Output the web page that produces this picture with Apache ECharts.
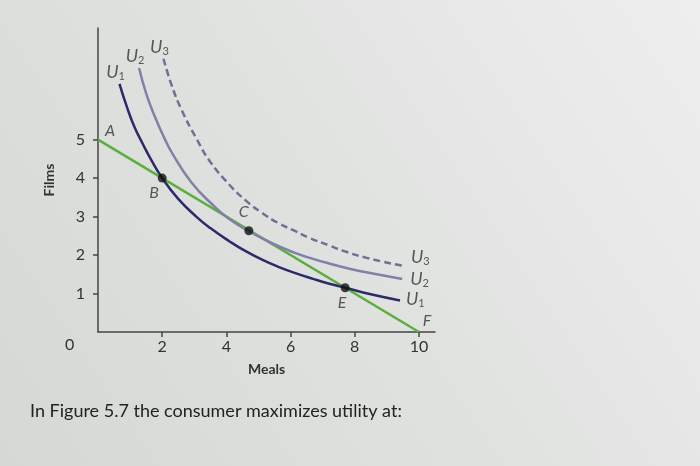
<!DOCTYPE html>
<html>
<head>
<meta charset="utf-8">
<script src="https://cdn.jsdelivr.net/npm/echarts@6/dist/echarts.min.js"></script>
<style>html,body{margin:0;padding:0;}#c{width:700px;height:466px;}</style>
</head>
<body>
<div id="c"></div>
<script>
// Meals (x) vs Films (y)
var budgetLine = [[0, 5], [10, 0]];
var u1 = [[0.67, 6.45], [0.9, 5.85], [1.14, 5.32], [1.4, 4.88], [1.64, 4.5], [2.0, 4.0], [2.5, 3.46], [3.06, 3.0], [3.5, 2.7], [4.09, 2.36], [4.6, 2.1], [5.11, 1.88], [5.6, 1.7], [6.15, 1.53], [6.7, 1.38], [7.18, 1.26], [7.7, 1.15], [8.5, 0.98], [9.41, 0.82]];
var u2 = [[1.28, 6.86], [1.5, 6.2], [1.77, 5.6], [2.05, 5.07], [2.31, 4.65], [2.9, 3.9], [3.58, 3.3], [4.1, 2.93], [4.7, 2.62], [5.44, 2.3], [6.16, 2.05], [6.7, 1.9], [7.2, 1.78], [7.8, 1.65], [8.44, 1.54], [9.48, 1.38]];
var u3 = [[2.04, 7.1], [2.3, 6.4], [2.6, 5.78], [3.05, 5.05], [3.5, 4.42], [4.1, 3.82], [4.6, 3.42], [5.1, 3.1], [5.6, 2.84], [6.2, 2.6], [6.6, 2.44], [7.2, 2.25], [7.6, 2.12], [8.4, 1.92], [9.5, 1.72]];
var curveNames = ['1', '2', '3'];
var points = [{name: 'B', value: [2, 4]}, {name: 'C', value: [4.7, 2.63]}, {name: 'E', value: [7.7, 1.15]}];
var endpoints = [{name: 'A', value: [0, 5]}, {name: 'F', value: [10, 0]}];
var xTicks = [2, 4, 6, 8, 10];
var yTicks = [1, 2, 3, 4, 5];
var xName = 'Meals', yName = 'Films';
var caption = 'In Figure 5.7 the consumer maximizes utility at:';

var FONT = 'Lato, "DejaVu Sans", sans-serif';
var uRich = {
  u: {fontStyle: 'italic', fontSize: 18, color: '#333', fontFamily: FONT},
  s: {fontSize: 11, color: '#333', fontFamily: FONT, verticalAlign: 'bottom', padding: [9, 0, 0, 0]}
};
var curves = [u1, u2, u3];
var topLabels = curves.map(function (c, i) {
  return {name: curveNames[i], value: c[0]};
});
var endLabels = curves.map(function (c, i) {
  return {name: curveNames[i], value: c[c.length - 1]};
});
function curve(arr, color, dash) {
  return {
    type: 'line', data: arr, smooth: 0.5, showSymbol: false,
    lineStyle: {color: color, width: 2.5, type: dash || 'solid'}, z: 3
  };
}

var chart = echarts.init(document.getElementById('c'), null, {renderer: 'canvas'});
chart.setOption({
  backgroundColor: {
    type: 'linear', x: 0, y: 1, x2: 1, y2: 0,
    colorStops: [{offset: 0, color: '#d6d8d6'}, {offset: 0.5, color: '#e0e2e0'}, {offset: 1, color: '#eeeeee'}]
  },
  animation: false,
  title: {
    text: caption, left: 25, top: 397,
    textStyle: {fontSize: 18, fontWeight: 'normal', color: '#222', fontFamily: FONT}
  },
  graphic: [{
    type: 'text', left: 65, top: 337,
    style: {text: '0', fontSize: 16, fill: '#333', fontFamily: FONT}
  }],
  grid: {left: 98, right: 265, top: 28, bottom: 134},
  xAxis: {
    type: 'value', min: 0, max: 10.5,
    name: xName, nameLocation: 'middle', nameGap: 30,
    nameTextStyle: {fontSize: 14, fontWeight: 'bold', color: '#333', fontFamily: FONT},
    axisLine: {lineStyle: {color: '#444', width: 1.5}},
    axisTick: {show: true, customValues: xTicks, length: 5, lineStyle: {color: '#444', width: 1.5}},
    axisLabel: {customValues: xTicks, fontSize: 16, color: '#333', margin: 7, fontFamily: FONT},
    splitLine: {show: false}
  },
  yAxis: {
    type: 'value', min: 0, max: 7.9,
    name: yName, nameLocation: 'middle', nameGap: 42, nameRotate: 90,
    nameTextStyle: {fontSize: 14, fontWeight: 'bold', color: '#333', fontFamily: FONT},
    axisLine: {show: true, lineStyle: {color: '#444', width: 1.5}},
    axisTick: {show: true, customValues: yTicks, length: 5, lineStyle: {color: '#444', width: 1.5}},
    axisLabel: {customValues: yTicks, fontSize: 16, color: '#333', margin: 13, fontFamily: FONT},
    splitLine: {show: false}
  },
  series: [
    {type: 'line', data: budgetLine, showSymbol: false, lineStyle: {color: '#5cae3e', width: 2.5}, z: 2},
    curve(u1, '#2c2b6a'),
    curve(u2, '#8080a8'),
    curve(u3, '#6e7094', [7, 4]),
    {
      type: 'scatter', data: topLabels, symbolSize: 0, z: 6, silent: true,
      label: {show: true, position: 'top', distance: 2, formatter: function (p) { return '{u|U}{s|' + p.name + '}'; }, rich: uRich},
      labelLayout: {dx: -4, dy: 0}
    },
    {
      type: 'scatter', data: endLabels, symbolSize: 0, z: 6, silent: true,
      label: {show: true, position: 'right', distance: 6, formatter: function (p) { return '{u|U}{s|' + p.name + '}'; }, rich: uRich},
      labelLayout: function (p) {
        if (p.dataIndex === 2) return {dx: 2, dy: -9};
        if (p.dataIndex === 1) return {dx: 2, dy: 0};
        return {dx: 0, dy: -1};
      }
    },
    {
      type: 'scatter', data: points, symbolSize: 9, itemStyle: {color: '#111'}, z: 5,
      label: {
        show: true, formatter: '{b}', fontSize: 16, fontStyle: 'italic', color: '#333', fontFamily: FONT,
        position: 'bottom'
      },
      labelLayout: function (p) {
        var n = points[p.dataIndex].name;
        if (n === 'B') return {dx: -8, dy: -3};
        if (n === 'C') return {dx: -5, dy: -36};
        return {dx: -3, dy: -2};
      }
    },
    {
      type: 'scatter', data: endpoints, symbolSize: 0, z: 5,
      label: {show: true, formatter: '{b}', fontSize: 16, fontStyle: 'italic', color: '#333', fontFamily: FONT, position: 'top'},
      labelLayout: function (p) {
        var n = endpoints[p.dataIndex].name;
        if (n === 'A') return {dx: 12, dy: 4};
        return {dx: 8, dy: 2};
      }
    }
  ]
});
</script>
</body>
</html>
